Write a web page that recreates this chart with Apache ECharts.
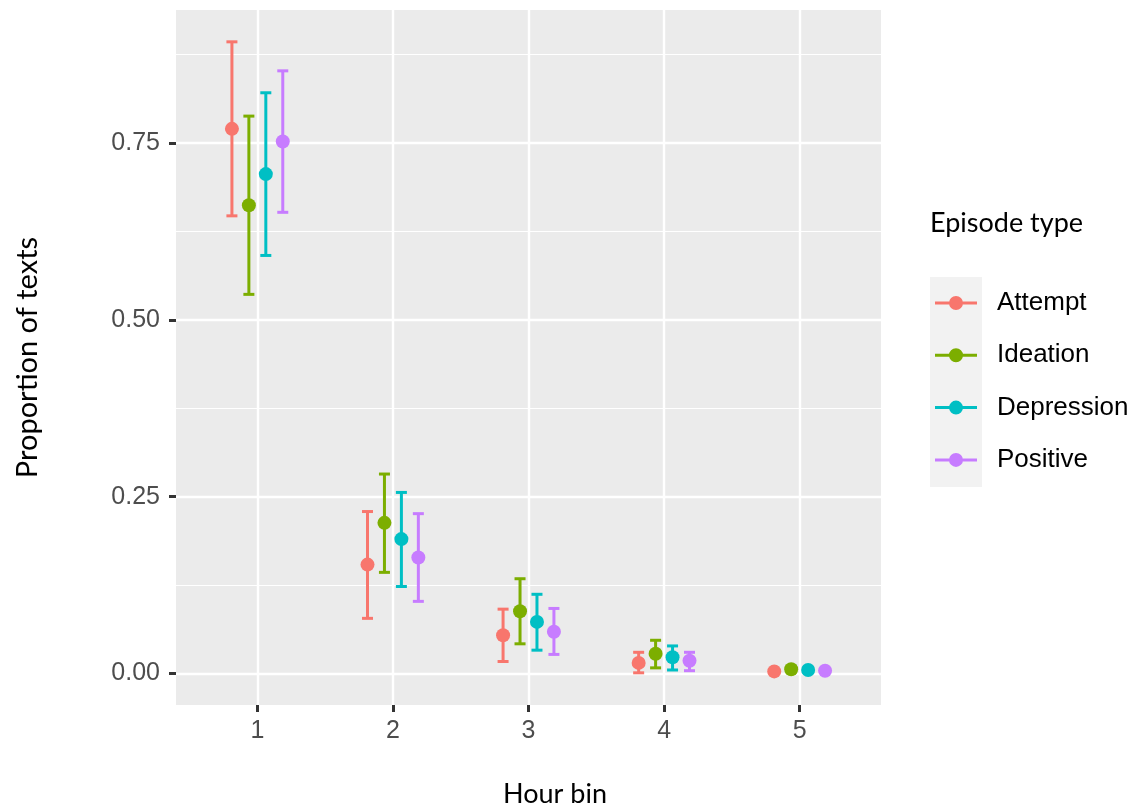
<!DOCTYPE html>
<html>
<head>
<meta charset="utf-8">
<script src="https://cdn.jsdelivr.net/npm/echarts@6/dist/echarts.min.js"></script>
<style>
  html, body { margin: 0; padding: 0; background: #fff; }
  #chart { width: 1133px; height: 807px; }
</style>
</head>
<body>
<div id="chart"></div>
<script>
// hour bins on the x axis
const bins = [1, 2, 3, 4, 5];
const episodeTypes = ['Attempt', 'Ideation', 'Depression', 'Positive'];
const typeColors = ['#F8766D', '#7CAE00', '#00BFC4', '#C77CFF'];

// proportion of texts (point) and lower / upper error bar, per bin
const attemptMean = [0.770, 0.154, 0.054, 0.015, 0.003];
const attemptLow  = [0.647, 0.078, 0.017, 0.001, 0.001];
const attemptHigh = [0.893, 0.229, 0.091, 0.030, 0.005];

const ideationMean = [0.662, 0.213, 0.088, 0.028, 0.006];
const ideationLow  = [0.536, 0.143, 0.042, 0.008, 0.002];
const ideationHigh = [0.788, 0.282, 0.134, 0.047, 0.010];

const depressionMean = [0.706, 0.190, 0.073, 0.023, 0.005];
const depressionLow  = [0.591, 0.123, 0.033, 0.005, 0.002];
const depressionHigh = [0.821, 0.256, 0.112, 0.039, 0.008];

const positiveMean = [0.752, 0.164, 0.059, 0.018, 0.004];
const positiveLow  = [0.652, 0.102, 0.027, 0.004, 0.002];
const positiveHigh = [0.852, 0.226, 0.092, 0.030, 0.006];

const yMajorTicks = [0, 0.25, 0.5, 0.75];
const yMinorTicks = [0.125, 0.375, 0.625, 0.875];

const groupData = [
  [attemptMean, attemptLow, attemptHigh],
  [ideationMean, ideationLow, ideationHigh],
  [depressionMean, depressionLow, depressionHigh],
  [positiveMean, positiveLow, positiveHigh]
];

// position_dodge: 4 groups spread over 0.5 of a bin
const dodgeWidth = 0.5;
const dodgeOffset = (i) => -dodgeWidth / 2 + dodgeWidth / episodeTypes.length * (i + 0.5);

const chart = echarts.init(document.getElementById('chart'));

const makeSeries = (name, i) => {
  const [mean, low, high] = groupData[i];
  const color = typeColors[i];
  return {
    name: name,
    type: 'custom',
    xAxisIndex: 0,
    yAxisIndex: 0,
    itemStyle: { color: color },
    encode: { x: 0, y: 1 },
    data: bins.map((b, k) => [b + dodgeOffset(i), mean[k], low[k], high[k]]),
    renderItem: (params, api) => {
      const x = api.value(0);
      const pMid = api.coord([x, api.value(1)]);
      const pLo = api.coord([x, api.value(2)]);
      const pHi = api.coord([x, api.value(3)]);
      const capHalf = 5.5;
      const lineStyle = { stroke: color, lineWidth: 3 };
      return {
        type: 'group',
        children: [
          { type: 'line', shape: { x1: pLo[0], y1: pLo[1], x2: pHi[0], y2: pHi[1] }, style: lineStyle },
          { type: 'line', shape: { x1: pLo[0] - capHalf, y1: pLo[1], x2: pLo[0] + capHalf, y2: pLo[1] }, style: lineStyle },
          { type: 'line', shape: { x1: pHi[0] - capHalf, y1: pHi[1], x2: pHi[0] + capHalf, y2: pHi[1] }, style: lineStyle },
          { type: 'circle', shape: { cx: pMid[0], cy: pMid[1], r: 7 }, style: { fill: color } }
        ]
      };
    }
  };
};

// legend key: short line with a dot in the middle
const keyIcon = 'path://M0,5.5 L42,5.5 L42,8.5 L0,8.5 Z M21,0 A7,7 0 1,1 21,14 A7,7 0 1,1 21,0 Z';

chart.setOption({
  backgroundColor: '#ffffff',
  animation: false,
  grid: {
    left: 176,
    right: 252,
    top: 10,
    bottom: 102,
    outerBoundsMode: 'none',
    containLabel: false,
    show: true,
    backgroundColor: '#EBEBEB',
    borderWidth: 0
  },
  title: {
    text: 'Episode type',
    left: 925,
    top: 205,
    textStyle: { fontFamily: 'Lato', fontWeight: 'normal', fontSize: 27, color: '#000' }
  },
  graphic: [
    { type: 'rect', left: 930, top: 277, shape: { width: 52, height: 210 }, style: { fill: '#F2F2F2' }, z: 0 }
  ],
  legend: {
    data: episodeTypes,
    orient: 'vertical',
    left: 935,
    top: 288,
    padding: 0,
    itemWidth: 42,
    itemHeight: 14,
    itemGap: 22.3,
    icon: keyIcon,
    textStyle: {
      fontFamily: 'Liberation Sans',
      fontSize: 26,
      color: '#000',
      lineHeight: 30,
      padding: [0, 0, 0, 15]
    }
  },
  xAxis: [{
    type: 'value',
    min: 0.4,
    max: 5.6,
    name: 'Hour bin',
    nameLocation: 'middle',
    nameGap: 76,
    nameTextStyle: { fontFamily: 'Lato', fontSize: 27, color: '#000', padding: [0, 0, 0, 53] },
    axisLine: { show: false, onZero: false },
    axisTick: { show: true, customValues: bins, length: 7, lineStyle: { color: '#333333', width: 3 } },
    axisLabel: { customValues: bins, margin: 14, fontFamily: 'Liberation Sans', fontSize: 25, color: '#4D4D4D' },
    splitLine: { show: true, lineStyle: { color: '#ffffff', width: 2.4 } }
  }],
  yAxis: [{
    type: 'value',
    min: -0.0445,
    max: 0.938,
    name: 'Proportion of texts',
    nameLocation: 'middle',
    nameGap: 134,
    nameTextStyle: { fontFamily: 'Lato', fontSize: 29, color: '#000' },
    axisLine: { show: false, onZero: false },
    axisTick: { show: true, customValues: yMajorTicks, length: 7, lineStyle: { color: '#333333', width: 3 } },
    axisLabel: {
      customValues: yMajorTicks,
      margin: 16,
      fontFamily: 'Liberation Sans',
      fontSize: 25,
      color: '#4D4D4D',
      formatter: (v) => v.toFixed(2)
    },
    splitLine: { show: true, lineStyle: { color: '#ffffff', width: 2.4 } }
  }, {
    type: 'value',
    min: -0.0445,
    max: 0.938,
    position: 'left',
    axisLine: { show: false, onZero: false },
    axisTick: { show: false, customValues: yMinorTicks },
    axisLabel: { show: false, customValues: yMinorTicks },
    splitLine: { show: true, lineStyle: { color: '#ffffff', width: 1.2 } }
  }],
  series: episodeTypes.map(makeSeries)
});
</script>
</body>
</html>
